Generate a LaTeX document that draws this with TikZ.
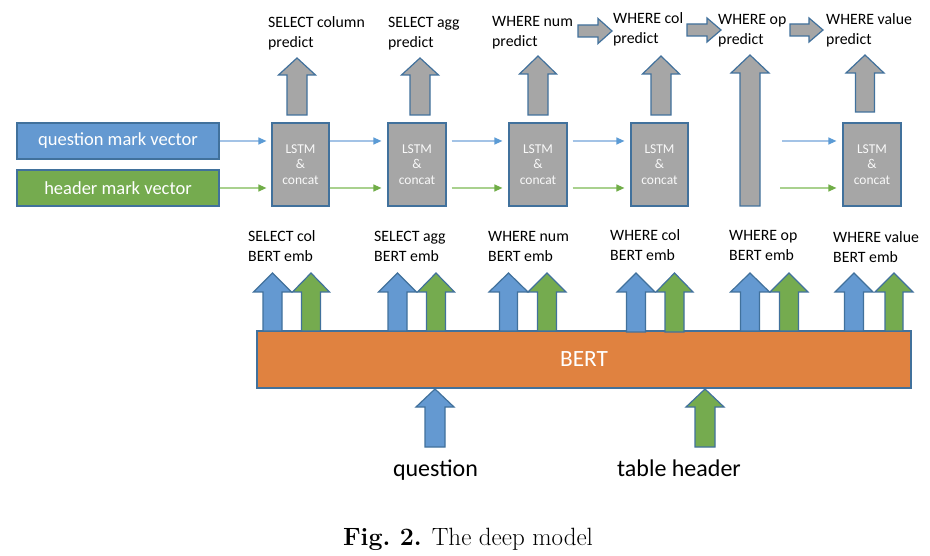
\documentclass[tikz,border=0pt]{standalone}
\usepackage{fontspec}
\newfontfamily\cbfont{Carlito}
\usetikzlibrary{arrows.meta}

\definecolor{qblue}{HTML}{6499D1}
\definecolor{qblueline}{HTML}{A3C3E6}
\definecolor{qbluetip}{HTML}{5B9BD5}
\definecolor{hgreen}{HTML}{75AB4F}
\definecolor{hgreenline}{HTML}{A9D18E}
\definecolor{hgreentip}{HTML}{70AD47}
\definecolor{edgeblue}{HTML}{41719C}
\definecolor{boxgray}{HTML}{A6A6A6}
\definecolor{bertorange}{HTML}{E08240}

% upward block arrow: style, centre x, bottom y, head base y, tip y, shaft half width, head half width
\newcommand{\blockup}[7]{%
  \draw[#1] (#2-#6,#3) -- (#2-#6,#4) -- (#2-#7,#4) -- (#2,#5) -- (#2+#7,#4)
    -- (#2+#6,#4) -- (#2+#6,#3) -- cycle;}
% rightward block arrow: style, start x, tip x, centre y, head length, shaft half height, head half height
\newcommand{\blockright}[7]{%
  \draw[#1] (#2,#4-#6) -- (#3-#5,#4-#6) -- (#3-#5,#4-#7) -- (#3,#4) -- (#3-#5,#4+#7)
    -- (#3-#5,#4+#6) -- (#2,#4+#6) -- cycle;}

\tikzset{
  % two-line labels, placed by the baseline of their second line
  lab/.style={font=\cbfont\fontsize{15.8}{19.5}\selectfont, align=left, anchor=base west, inner sep=0pt},
  markbox/.style={draw=edgeblue, line width=1.3pt, minimum width=202pt, minimum height=36pt,
    inner sep=0pt, text=white, font=\cbfont\fontsize{18.5}{22}\selectfont},
  lstmbox/.style={draw=edgeblue, fill=boxgray, line width=1.2pt, minimum width=57pt, minimum height=83pt,
    inner sep=0pt, text=white!95!gray, align=center, font=\cbfont\fontsize{13.5}{15.5}\selectfont},
  qflow/.style={draw=qblueline, line width=1.3pt, -{Triangle[length=8pt,width=7pt,color=qbluetip]}},
  hflow/.style={draw=hgreenline, line width=1.3pt, -{Triangle[length=8pt,width=7pt,color=hgreentip]}},
  grayblock/.style={fill=boxgray, draw=edgeblue, line width=1.2pt},
  blueblock/.style={fill=qblue, draw=edgeblue, line width=1.2pt},
  greenblock/.style={fill=hgreen, draw=edgeblue, line width=1.2pt},
  biglab/.style={font=\cbfont\fontsize{24}{28}\selectfont, anchor=base, inner sep=0pt},
}

\begin{document}
\begin{tikzpicture}[x=1pt,y=-1pt]
\fill[white] (0,0) rectangle (930,556);
\useasboundingbox (0,0) rectangle (930,556);

% mark vectors
\node[markbox, fill=qblue] (qmv) at (118,141) {question mark vector};
\node[markbox, fill=hgreen] (hmv) at (118,188) {header mark vector};

% LSTM cells
\node[lstmbox] (l1) at (300.5,164.5) {LSTM\\\&\\concat};
\node[lstmbox, minimum width=58pt] (l2) at (417,164.5) {LSTM\\\&\\concat};
\node[lstmbox, minimum width=58pt] (l3) at (538,164.5) {LSTM\\\&\\concat};
\node[lstmbox] (l4) at (659.5,164.5) {LSTM\\\&\\concat};
\node[lstmbox, minimum width=58pt] (l5) at (872,164.5) {LSTM\\\&\\concat};

% flow of the two mark vectors
\draw[qflow, shorten >=5pt] (qmv.east) -- (qmv.east -| l1.west);
\draw[hflow, shorten >=5pt] (hmv.east) -- (hmv.east -| l1.west);
\draw[qflow, shorten >=6pt] (l1.east |- qmv.east) -- (l2.west |- qmv.east);
\draw[hflow, shorten >=6pt] (l1.east |- hmv.east) -- (l2.west |- hmv.east);
\draw[qflow, shorten <=5pt, shorten >=6pt] (l2.east |- qmv.east) -- (l3.west |- qmv.east);
\draw[hflow, shorten <=5pt, shorten >=6pt] (l2.east |- hmv.east) -- (l3.west |- hmv.east);
\draw[qflow, shorten <=5pt, shorten >=6pt] (l3.east |- qmv.east) -- (l4.west |- qmv.east);
\draw[hflow, shorten <=5pt, shorten >=6pt] (l3.east |- hmv.east) -- (l4.west |- hmv.east);
\coordinate (opq) at (782,141);
\coordinate (oph) at (780,188);
\draw[qflow, shorten >=6pt] (opq) -- (opq -| l5.west);
\draw[hflow, shorten >=6pt] (oph) -- (oph -| l5.west);

% prediction arrows
\blockup{grayblock}{297}{115}{75}{58}{10}{18.5}
\blockup{grayblock}{420}{115}{75}{58}{10}{18.5}
\blockup{grayblock}{538}{115}{74}{56}{10}{18.5}
\blockup{grayblock}{661}{115}{74}{56}{10}{18.5}
\blockup{grayblock}{750}{206}{73}{55}{10}{19}
\blockup{grayblock}{865}{112}{73}{55}{9.5}{19}

% chain between the WHERE predictions
\blockright{grayblock}{578}{612}{31}{14}{6}{12.5}
\blockright{grayblock}{687}{721}{30}{14}{6}{12}
\blockright{grayblock}{790}{823}{30}{14}{6}{12}

% prediction labels
\node[lab] (p1) at (268,47.5) {SELECT column\\predict};
\node[lab] (p2) at (388,47.5) {SELECT agg\\predict};
\node[lab] (p3) at (492,46.5) {WHERE num\\predict};
\node[lab] (p4) at (613,43.5) {WHERE col\\predict};
\node[lab] (p5) at (718,44.5) {WHERE op\\predict};
\node[lab] (p6) at (826,44.5) {WHERE value\\predict};

% embedding labels
\node[lab] (e1) at (248,261.5) {SELECT col\\BERT emb};
\node[lab] (e2) at (374,261.5) {SELECT agg\\BERT emb};
\node[lab] (e3) at (488,261.5) {WHERE num\\BERT emb};
\node[lab] (e4) at (610,260.5) {WHERE col\\BERT emb};
\node[lab] (e5) at (729,260.5) {WHERE op\\BERT emb};
\node[lab] (e6) at (833,262.5) {WHERE value\\BERT emb};

% BERT encoder
\node[draw=edgeblue, fill=bertorange, line width=1.3pt, minimum width=654pt, minimum height=57pt,
  inner sep=0pt, text=white, font=\cbfont\fontsize{23.3}{28}\selectfont] (bert) at (584,359.5) {BERT};

% embedding outputs (question / header)
\blockup{blueblock}{272.5}{331}{292}{273}{9.5}{19}
\blockup{greenblock}{311}{331}{292}{273}{9.5}{18.5}
\blockup{blueblock}{397.5}{331}{292}{273}{9.5}{19}
\blockup{greenblock}{436}{331}{292}{273}{9.5}{18.5}
\blockup{blueblock}{508.5}{331}{292}{273}{9}{19.5}
\blockup{greenblock}{547}{331}{292}{273}{9.5}{19}
\blockup{blueblock}{636}{332}{292}{273}{9.5}{19}
\blockup{greenblock}{674.5}{332}{292}{273}{9.5}{18.5}
\blockup{blueblock}{750}{331}{292}{273}{9.5}{19.5}
\blockup{greenblock}{789}{331}{292}{273}{9.5}{19}
\blockup{blueblock}{854}{331}{292}{273}{9.5}{19}
\blockup{greenblock}{894}{331}{292}{273}{9}{19}

% inputs
\blockup{blueblock}{435}{447}{407}{389}{10}{19}
\blockup{greenblock}{705}{447}{407}{389}{10}{19}
\node[biglab] (qin) at (435.5,476) {question};
\node[biglab] (tin) at (679,476) {table header};

% caption
\node[anchor=base, inner sep=0pt, font=\fontsize{25}{30}\selectfont] (cap) at (468,545)
  {\textbf{Fig.\ 2.} The deep model};
\end{tikzpicture}
\end{document}
